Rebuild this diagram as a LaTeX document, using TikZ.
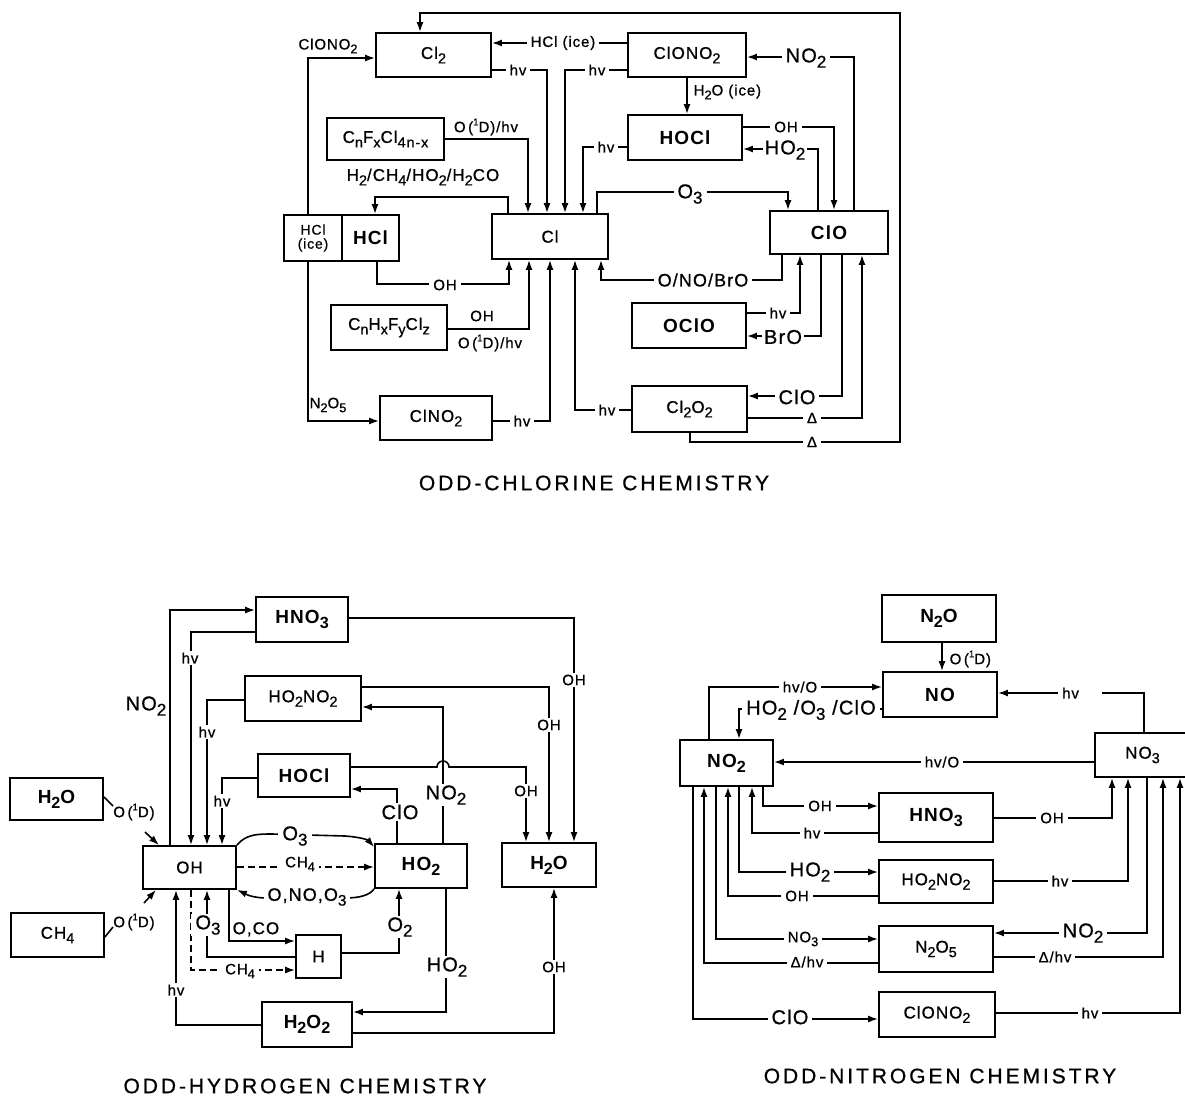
\documentclass[tikz,border=0pt]{standalone}
\usepackage{fontspec}
\setmainfont{Liberation Sans}[LetterSpace=6, UprightFeatures={FakeBold=0.8}]
\usepackage{graphicx}
\usetikzlibrary{arrows.meta}

\newcommand\chdn[1]{\raisebox{-0.5ex}{\scalebox{0.85}{#1}}}
\newcommand\chup[1]{\raisebox{0.85ex}{\scalebox{0.65}{#1}}}
\newcommand\OneD{O\,(\chup{1}D)}

\tikzset{
  box/.style={draw, line width=1.8pt, inner sep=0pt, font=\fontsize{17}{19}\selectfont},
  boxb/.style={box, font=\fontsize{19}{21}\selectfont\bfseries},
  wire/.style={line width=1.6pt},
  arr/.style={wire, -{Latex[length=10pt,width=7pt]}},
  lbl/.style={inner sep=1.5pt, font=\fontsize{15}{17}\selectfont},
  lblw/.style={lbl, fill=white, inner xsep=4pt},
  lblb/.style={lbl, font=\fontsize{20}{22}\selectfont},
  lblbw/.style={lblb, fill=white, inner xsep=4pt},
  ttl/.style={font=\fontsize{21}{23}\selectfont\addfontfeature{LetterSpace=14}},
}

\begin{document}
\begin{tikzpicture}[x=1pt,y=-1pt]
  \useasboundingbox (0,0) rectangle (1185,1101);

  % odd chlorine
  \node[box, minimum width=115pt, minimum height=44pt] (Cl2) at (433.5,55) {Cl\chdn{2}};
  \node[box, minimum width=118pt, minimum height=44pt] (ClONOa) at (687,55) {ClONO\chdn{2}};
  \node[boxb, minimum width=114pt, minimum height=45pt] (HOCla) at (685,137.5) {HOCl};
  \node[box, minimum width=117pt, minimum height=42pt] (CnF) at (385.5,139) {C\chdn{n}F\chdn{x}Cl\chdn{4n-x}};
  \node[box, minimum width=58pt, minimum height=46pt, align=center,
        font=\fontsize{14}{14}\selectfont] (HClice) at (313,238) {HCl\\(ice)};
  \node[boxb, minimum width=57pt, minimum height=46pt] (HCla) at (370.5,238) {HCl};
  \node[box, minimum width=116pt, minimum height=45pt] (Cl) at (550,236.5) {Cl};
  \node[boxb, minimum width=118pt, minimum height=43pt] (ClO) at (829,232.5) {ClO};
  \node[box, minimum width=116pt, minimum height=45pt] (CnH) at (389,327.5) {C\chdn{n}H\chdn{x}F\chdn{y}Cl\chdn{z}};
  \node[boxb, minimum width=114pt, minimum height=45pt] (OClO) at (689,325.5) {OClO};
  \node[box, minimum width=112pt, minimum height=44pt] (ClNOa) at (436,418) {ClNO\chdn{2}};
  \node[box, minimum width=115pt, minimum height=46pt] (ClOOCl) at (689.5,409) {Cl\chdn{2}O\chdn{2}};

  \draw[arr] (690,0 |- ClOOCl.south) |- (900,442) |- (420,13) -- (420,0 |- Cl2.north);
  \draw[arr] (308,0 |- HClice.north) |- (Cl2.west |- 0,58);
  \draw[arr] (308,0 |- HClice.south) |- (ClNOa.west |- 0,421);
  \draw[arr] (ClONOa.west |- 0,43) -- (Cl2.east |- 0,43);
  \draw[arr] (Cl2.east |- 0,70) -| (547,0 |- Cl.north);
  \draw[arr] (ClONOa.west |- 0,70) -| (565,0 |- Cl.north);
  \draw[arr] (687,0 |- ClONOa.south) -- (687,0 |- HOCla.north);
  \draw[arr] (HOCla.west |- 0,147) -| (583,0 |- Cl.north);
  \draw[arr] (CnF.east |- 0,139) -| (528,0 |- Cl.north);
  \draw[arr] (508,0 |- Cl.north) |- (375,197) -- (375,0 |- HCla.north);
  \draw[arr] (597,0 |- Cl.north) |- (788,192) -- (788,0 |- ClO.north);
  \draw[arr] (377,0 |- HCla.south) |- (509,284) -- (509,0 |- Cl.south);
  \draw[arr] (CnH.east |- 0,329) -| (529,0 |- Cl.south);
  \draw[arr] (ClNOa.east |- 0,421) -| (550,0 |- Cl.south);
  \draw[arr] (ClOOCl.west |- 0,410) -| (575,0 |- Cl.south);
  \draw[arr] (782,0 |- ClO.south) |- (601,280) -- (601,0 |- Cl.south);
  \draw[arr] (854,0 |- ClO.north) |- (ClONOa.east |- 0,57);
  \draw[arr] (HOCla.east |- 0,127) -| (834,0 |- ClO.north);
  \draw[arr] (818,0 |- ClO.north) |- (HOCla.east |- 0,149);
  \draw[arr] (OClO.east |- 0,313) -| (800,0 |- ClO.south);
  \draw[arr] (821,0 |- ClO.south) |- (OClO.east |- 0,336);
  \draw[arr] (842,0 |- ClO.south) |- (ClOOCl.east |- 0,396);
  \draw[arr] (ClOOCl.east |- 0,418) -| (862,0 |- ClO.south);

  \node[lbl] (tClONO) at (328,46) {ClONO\chdn{2}};
  \node[lblw] (tHClice) at (563,43) {HCl (ice)};
  \node[lblw] (thv1) at (518,70) {hv};
  \node[lblw] (thv2) at (597,70) {hv};
  \node[lbl, anchor=west] (tH2Oice) at (692,92) {H\chdn{2}O (ice)};
  \node[lblw] (thv3) at (606,147) {hv};
  \node[lbl] (tO1Da) at (486,127) {\OneD/hv};
  \node[lbl, font=\fontsize{17}{19}\selectfont] (tH2CH4) at (423,177) {H\chdn{2}/CH\chdn{4}/HO\chdn{2}/H\chdn{2}CO};
  \node[lblbw] (tO3a) at (690,194) {O\chdn{3}};
  \node[lblw] (tOHa) at (445,285) {OH};
  \node[lbl] (tOHb) at (482,316) {OH};
  \node[lbl] (tO1Db) at (490,343) {\OneD/hv};
  \node[lblw] (thv4) at (522,421) {hv};
  \node[lblw] (thv5) at (607,410) {hv};
  \node[lblw, font=\fontsize{18}{20}\selectfont] (tONOBrO) at (703,280) {O/NO/BrO};
  \node[lbl] (tN2O5a) at (328,405) {N\chdn{2}O\chdn{5}};
  \node[lblbw] (tNO2a) at (806,58) {NO\chdn{2}};
  \node[lblw] (tOHc) at (786,127) {OH};
  \node[lblbw, inner xsep=2pt] (tHO2a) at (785,150) {HO\chdn{2}};
  \node[lblw] (thv6) at (778,313) {hv};
  \node[lblbw, inner xsep=2pt] (tBrO) at (783,337) {BrO};
  \node[lblbw] (tClOa) at (797,397) {ClO};
  \node[lblw] (tDa) at (812,418) {Δ};
  \node[lblw] (tDb) at (812,442) {Δ};
  \node[ttl] (ttlCl) at (594,483) {ODD-CHLORINE CHEMISTRY};

  % odd hydrogen
  \node[boxb, minimum width=92pt, minimum height=45pt] (HNOh) at (302,619.5) {HNO\chdn{3}};
  \node[box, minimum width=116pt, minimum height=45pt] (HOONOh) at (303,698.5) {HO\chdn{2}NO\chdn{2}};
  \node[boxb, minimum width=92pt, minimum height=43pt] (HOClh) at (304,775.5) {HOCl};
  \node[boxb, minimum width=93pt, minimum height=42pt] (H2Oa) at (56.5,799) {H\chdn{2}O};
  \node[box, minimum width=93pt, minimum height=43pt] (OHh) at (189.5,867.5) {OH};
  \node[boxb, minimum width=92pt, minimum height=44pt] (HO2h) at (421,866) {HO\chdn{2}};
  \node[boxb, minimum width=94pt, minimum height=44pt] (H2Ob) at (549,865) {H\chdn{2}O};
  \node[box, minimum width=93pt, minimum height=44pt] (CH4h) at (57.5,935) {CH\chdn{4}};
  \node[box, minimum width=45pt, minimum height=43pt] (Hh) at (318.5,956.5) {H};
  \node[boxb, minimum width=90pt, minimum height=45pt] (H2O2h) at (307,1024.5) {H\chdn{2}O\chdn{2}};

  \node[lbl] (tO1Dh1) at (134,812) {\OneD};
  \node[lbl] (tO1Dh2) at (134,922) {\OneD};
  \coordinate (hOa1) at (113,806);
  \coordinate (hOa2) at (145,832);
  \coordinate (hOb1) at (113,927);
  \coordinate (hOb2) at (144,903);

  \draw[arr] (170,0 |- OHh.north) |- (HNOh.west |- 0,610);
  \draw[arr] (HNOh.west |- 0,632) -| (191,0 |- OHh.north);
  \draw[arr] (HNOh.east |- 0,618) -| (574,0 |- H2Ob.north);
  \draw[arr] (HOONOh.west |- 0,700) -| (207,0 |- OHh.north);
  \draw[arr] (HOONOh.east |- 0,687) -| (549,0 |- H2Ob.north);
  \draw[arr] (443,0 |- HO2h.north) |- (HOONOh.east |- 0,707);
  \draw[arr] (HOClh.west |- 0,778) -| (222,0 |- OHh.north);
  \draw[arr] (HOClh.east |- 0,767) -- (437,767)
        arc[start angle=180, end angle=0, radius=6pt] -| (526,0 |- H2Ob.north);
  \draw[arr] (397,0 |- HO2h.north) |- (HOClh.east |- 0,789);
  \draw[arr] (OHh.north east) .. controls (246,834) and (258,834) .. (272,834) -- (345,836)
        .. controls (360,837) and (368,840) .. (HO2h.west |- 0,847);
  \draw[arr, dashed, dash pattern=on 7pt off 4pt] (OHh.east |- 0,867) -- (HO2h.west |- 0,867);
  \draw[arr] (HO2h.south west) .. controls (370,895) and (360,898) .. (345,898) -- (268,898)
        .. controls (250,898) and (244,893) .. (OHh.south east);
  \draw[wire] (H2Oa.east |- 0,797) -- (hOa1);
  \draw[arr] (hOa2) -- (159,0 |- OHh.north);
  \draw[wire] (CH4h.east |- 0,937) -- (hOb1);
  \draw[arr] (hOb2) -- (156,0 |- OHh.south);
  \draw[arr] (H2O2h.west |- 0,1025) -| (176,0 |- OHh.south);
  \draw[arr] (Hh.west |- 0,957) -| (207,0 |- OHh.south);
  \draw[arr, dashed, dash pattern=on 7pt off 4pt] (191,0 |- OHh.south) |- (Hh.west |- 0,970);
  \draw[arr] (229,0 |- OHh.south) |- (Hh.west |- 0,941);
  \draw[arr] (Hh.east |- 0,953) -| (399,0 |- HO2h.south);
  \draw[arr] (446,0 |- HO2h.south) |- (H2O2h.east |- 0,1012);
  \draw[arr] (H2O2h.east |- 0,1033) -| (554,0 |- H2Ob.south);

  \node[lblb, anchor=east] (tNO2h1) at (168,706) {NO\chdn{2}};
  \node[lblw] (thvh1) at (190,658) {hv};
  \node[lblw] (tOHh1) at (574,680) {OH};
  \node[lblw] (thvh2) at (207,732) {hv};
  \node[lblw] (tOHh2) at (549,725) {OH};
  \node[lblbw] (tNO2h2) at (446,795) {NO\chdn{2}};
  \node[lblw] (thvh3) at (222,801) {hv};
  \node[lblw] (tOHh3) at (526,791) {OH};
  \node[lblbw] (tClOh) at (400,812) {ClO};
  \node[lblbw] (tO3h1) at (295,836) {O\chdn{3}};
  \node[lblw] (tCH4h1) at (300,864) {CH\chdn{4}};
  \node[lblbw, font=\fontsize{18}{20}\selectfont] (tONO) at (307,897) {O,NO,O\chdn{3}};
  \node[lblw] (thvh4) at (176,990) {hv};
  \node[lblbw] (tO3h2) at (208,925) {O\chdn{3}};
  \node[lblw] (tCH4h2) at (240,971) {CH\chdn{4}};
  \node[lbl, anchor=south west, font=\fontsize{17}{19}\selectfont] (tOCO) at (231,938) {O,CO};
  \node[lblbw] (tO2h) at (400,927) {O\chdn{2}};
  \node[lblbw] (tHO2h) at (447,967) {HO\chdn{2}};
  \node[lblw] (tOHh4) at (554,967) {OH};
  \node[ttl] (ttlH) at (305,1086) {ODD-HYDROGEN CHEMISTRY};

  % odd nitrogen
  \node[boxb, minimum width=114pt, minimum height=47pt] (N2On) at (939,618.5) {N\chdn{2}O};
  \node[boxb, minimum width=114pt, minimum height=45pt] (NOn) at (940,694.5) {NO};
  \node[boxb, minimum width=93pt, minimum height=46pt] (NO2n) at (726.5,763) {NO\chdn{2}};
  \node[box, minimum width=95pt, minimum height=44pt] (NO3n) at (1142.5,755) {NO\chdn{3}};
  \node[boxb, minimum width=114pt, minimum height=49pt] (HNOn) at (936,817.5) {HNO\chdn{3}};
  \node[box, minimum width=114pt, minimum height=43pt] (HOONOn) at (936,881.5) {HO\chdn{2}NO\chdn{2}};
  \node[box, minimum width=114pt, minimum height=46pt] (N2O5n) at (936,949) {N\chdn{2}O\chdn{5}};
  \node[box, minimum width=116pt, minimum height=45pt] (ClONOn) at (937,1014.5) {ClONO\chdn{2}};

  \draw[arr] (942,0 |- N2On.south) -- (942,0 |- NOn.north);
  \draw[arr] (709,0 |- NO2n.north) |- (NOn.west |- 0,687);
  \draw[arr] (NOn.west |- 0,709) -| (739,0 |- NO2n.north);
  \draw[arr] (1144,0 |- NO3n.north) |- (NOn.east |- 0,693);
  \draw[arr] (NO3n.west |- 0,762) -- (NO2n.east |- 0,762);
  \draw[arr] (763,0 |- NO2n.south) |- (HNOn.west |- 0,806);
  \draw[arr] (HNOn.west |- 0,833) -| (752,0 |- NO2n.south);
  \draw[arr] (HNOn.east |- 0,818) -| (1112,0 |- NO3n.south);
  \draw[arr] (739,0 |- NO2n.south) |- (HOONOn.west |- 0,872);
  \draw[arr] (HOONOn.west |- 0,896) -| (728,0 |- NO2n.south);
  \draw[arr] (HOONOn.east |- 0,881) -| (1128,0 |- NO3n.south);
  \draw[arr] (716,0 |- NO2n.south) |- (N2O5n.west |- 0,939);
  \draw[arr] (N2O5n.west |- 0,963) -| (704,0 |- NO2n.south);
  \draw[arr] (1147,0 |- NO3n.south) |- (N2O5n.east |- 0,933);
  \draw[arr] (N2O5n.east |- 0,957) -| (1163,0 |- NO3n.south);
  \draw[arr] (693,0 |- NO2n.south) |- (ClONOn.west |- 0,1019);
  \draw[arr] (ClONOn.east |- 0,1013) -| (1180,0 |- NO3n.south);

  \node[lbl, anchor=west] (tO1Dn) at (948,659) {\OneD};
  \node[lblw] (thvOn1) at (800,687) {hv/O};
  \node[lblbw] (tHOOC) at (811,710) {HO\chdn{2} /O\chdn{3} /ClO};
  \node[lblw, anchor=west, text width=36pt] (thvn1) at (1058,693) {hv};
  \node[lblw] (thvOn2) at (942,762) {hv/O};
  \node[lblw] (tOHn1) at (820,806) {OH};
  \node[lblw] (thvn2) at (812,833) {hv};
  \node[lblw] (tOHn2) at (1052,818) {OH};
  \node[lblbw] (tHO2n) at (810,872) {HO\chdn{2}};
  \node[lblw] (tOHn3) at (797,896) {OH};
  \node[lblw] (thvn3) at (1060,881) {hv};
  \node[lblw] (tNO3n) at (803,939) {NO\chdn{3}};
  \node[lblw] (tDhvn1) at (807,962) {Δ/hv};
  \node[lblbw] (tNO2n) at (1083,933) {NO\chdn{2}};
  \node[lblw] (tDhvn2) at (1055,957) {Δ/hv};
  \node[lblbw] (tClOn) at (790,1017) {ClO};
  \node[lblw] (thvn4) at (1090,1013) {hv};
  \node[ttl] (ttlN) at (940,1076) {ODD-NITROGEN CHEMISTRY};
\end{tikzpicture}
\end{document}
